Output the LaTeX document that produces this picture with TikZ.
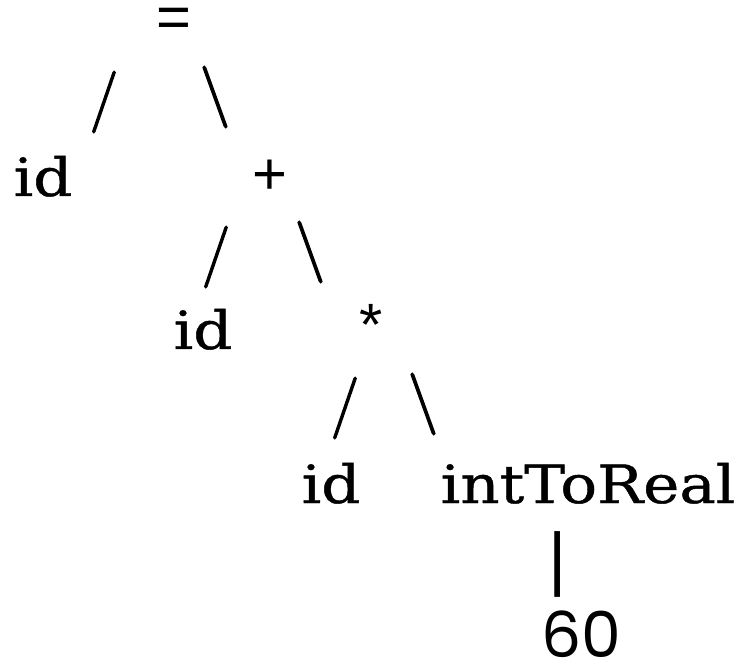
\documentclass[tikz,border=0pt]{standalone}
\usepackage{fontspec}
\setmainfont{DejaVu Serif}[FakeStretch=1.16, FakeBold=0.8]
\newfontfamily\symfont{Liberation Sans}
\newfontfamily\slfont{Latin Modern Roman}[FakeBold=2]
\newfontfamily\digfont{Poppins}
\begin{document}
\begin{tikzpicture}[x=0.02cm,y=-0.02cm]
\tikzset{
  every node/.style={inner sep=0pt, outer sep=0pt},
  word/.style={anchor=base, font=\fontsize{30}{30}\selectfont},
  op/.style={anchor=center, font=\symfont\fontsize{34}{34}\selectfont},
  br/.style={anchor=center, font=\slfont\fontsize{35}{35}\selectfont},
  pipe/.style={anchor=center, font=\symfont\fontsize{40}{40}\selectfont},
  num/.style={anchor=center, font=\digfont\fontsize{36}{36}\selectfont}
}
\useasboundingbox (0,0) rectangle (742,661);
\node[op, anchor=base] (eq) at (174,38) {=};
\node[br] (s1) at (104,102) {/};
\node[br] (b1) at (215,97) {\textbackslash};
\node[word] (id1) at (43,196) {id};
\node[op] (plus) at (270,177) {+};
\node[br] (s2) at (216,257) {/};
\node[br] (b2) at (310,252) {\textbackslash};
\node[word] (id2) at (203,349) {id};
\node[op] (star) at (371,325) {*};
\node[br] (s3) at (345,408) {/};
\node[br] (b3) at (423,404) {\textbackslash};
\node[word] (id3) at (331,503) {id};
\node[word] (itr) at (588,503) {intToReal};
\node[pipe] (bar) at (558,564) {|};
\node[num] (sixty) at (581,634) {60};
\end{tikzpicture}
\end{document}
